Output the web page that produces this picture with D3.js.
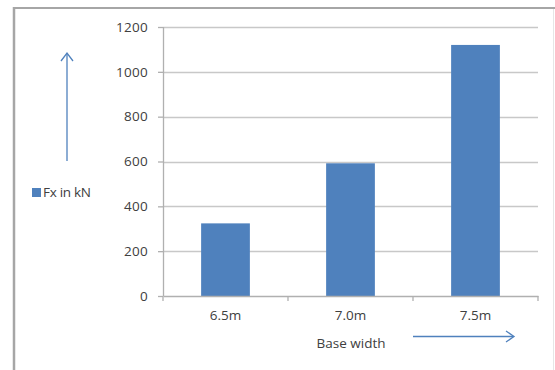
<!DOCTYPE html>
<html><head><meta charset="utf-8">
<script src="https://cdn.jsdelivr.net/npm/d3@7"></script>
<style>body{margin:0;background:#fff}svg{display:block}text{font-family:"Open Sans","Liberation Sans",sans-serif}</style>
</head><body><svg id="c" width="555" height="370"></svg>
<script>
const categories = ["6.5m", "7.0m", "7.5m"];
const values = [324, 592, 1120];
const yTicks = [0, 200, 400, 600, 800, 1000, 1200];
const seriesName = "Fx in kN";
const xTitle = "Base width";

const svg = d3.select("#c");
const L = 163, R = 538, T = 27, B = 296;
const FS = 13.5;
const x = d3.scaleBand().domain(categories).range([L, R]).paddingInner(0.61).paddingOuter(0.305);
const y = d3.scaleLinear().domain([0, 1200]).range([B, T]);

// frame
svg.append("line").attr("x1",14).attr("x2",14).attr("y1",7).attr("y2",370).attr("stroke","#a6a6a6").attr("stroke-width",2.5);
svg.append("line").attr("x1",13).attr("x2",555).attr("y1",8).attr("y2",8).attr("stroke","#a6a6a6").attr("stroke-width",2);
svg.append("line").attr("x1",553.5).attr("x2",553.5).attr("y1",9).attr("y2",370).attr("stroke","#e6e6e6").attr("stroke-width",1);

// gridlines
svg.append("g").selectAll("line").data(yTicks.filter(d=>d>0)).join("line")
  .attr("x1", L).attr("x2", R).attr("y1", d=>Math.round(y(d))+0.5).attr("y2", d=>Math.round(y(d))+0.5)
  .attr("stroke", "#c8c8c8").attr("stroke-width", 1.3);

// y axis
const ya = svg.append("g").attr("transform", `translate(${L},0)`)
  .call(d3.axisLeft(y).tickValues(yTicks).tickFormat(d3.format("d")).tickSize(5).tickPadding(10));
ya.select(".domain").attr("stroke","#b0b0b0").attr("stroke-width",1.3).attr("d",`M0.5,${T}V${B}`);
ya.selectAll(".tick line").attr("stroke","#b0b0b0").attr("stroke-width",1.3);
ya.selectAll(".tick text").attr("font-size",FS).attr("fill","#404040").attr("letter-spacing",0.3);

// bars
svg.append("g").selectAll("rect").data(values).join("rect")
  .attr("x", (d,i)=>x(categories[i])).attr("width", x.bandwidth())
  .attr("y", d=>y(d)).attr("height", d=>B - y(d))
  .attr("fill", "#4f81bd");

// x axis
const xa = svg.append("g").attr("transform", `translate(0,${B})`)
  .call(d3.axisBottom(x).tickSize(0).tickPadding(14));
xa.select(".domain").attr("stroke","#b0b0b0").attr("stroke-width",1.3);
xa.selectAll(".tick text").attr("font-size",FS).attr("fill","#404040");
const bounds = [L, ...categories.map(c=>x(c)+x.bandwidth()/2 + x.step()/2)];
xa.selectAll(".xt").data(bounds).join("line").attr("class","xt")
  .attr("x1", d=>d).attr("x2", d=>d).attr("y1",0).attr("y2",5)
  .attr("stroke","#b0b0b0").attr("stroke-width",1.3);

// x title
svg.append("text").attr("x", 351).attr("y", 348).attr("text-anchor","middle")
  .attr("font-size",FS).attr("fill","#404040").text(xTitle);

// legend
svg.append("rect").attr("x",32).attr("y",188).attr("width",9).attr("height",9).attr("fill","#4f81bd");
svg.append("text").attr("x",43).attr("y",197).attr("font-size",FS).attr("fill","#404040").attr("letter-spacing",-0.3).text(seriesName);

// arrows
const ac = "#4f81bd";
svg.append("line").attr("x1",67).attr("x2",67).attr("y1",161).attr("y2",54).attr("stroke",ac).attr("stroke-width",1.3);
svg.append("path").attr("d","M61,61L67,53L73,61").attr("fill","none").attr("stroke",ac).attr("stroke-width",1.3);
svg.append("line").attr("x1",413).attr("x2",513).attr("y1",336.5).attr("y2",336.5).attr("stroke",ac).attr("stroke-width",1.3);
svg.append("path").attr("d","M506,331L514,336.5L506,342").attr("fill","none").attr("stroke",ac).attr("stroke-width",1.3);
</script></body></html>
